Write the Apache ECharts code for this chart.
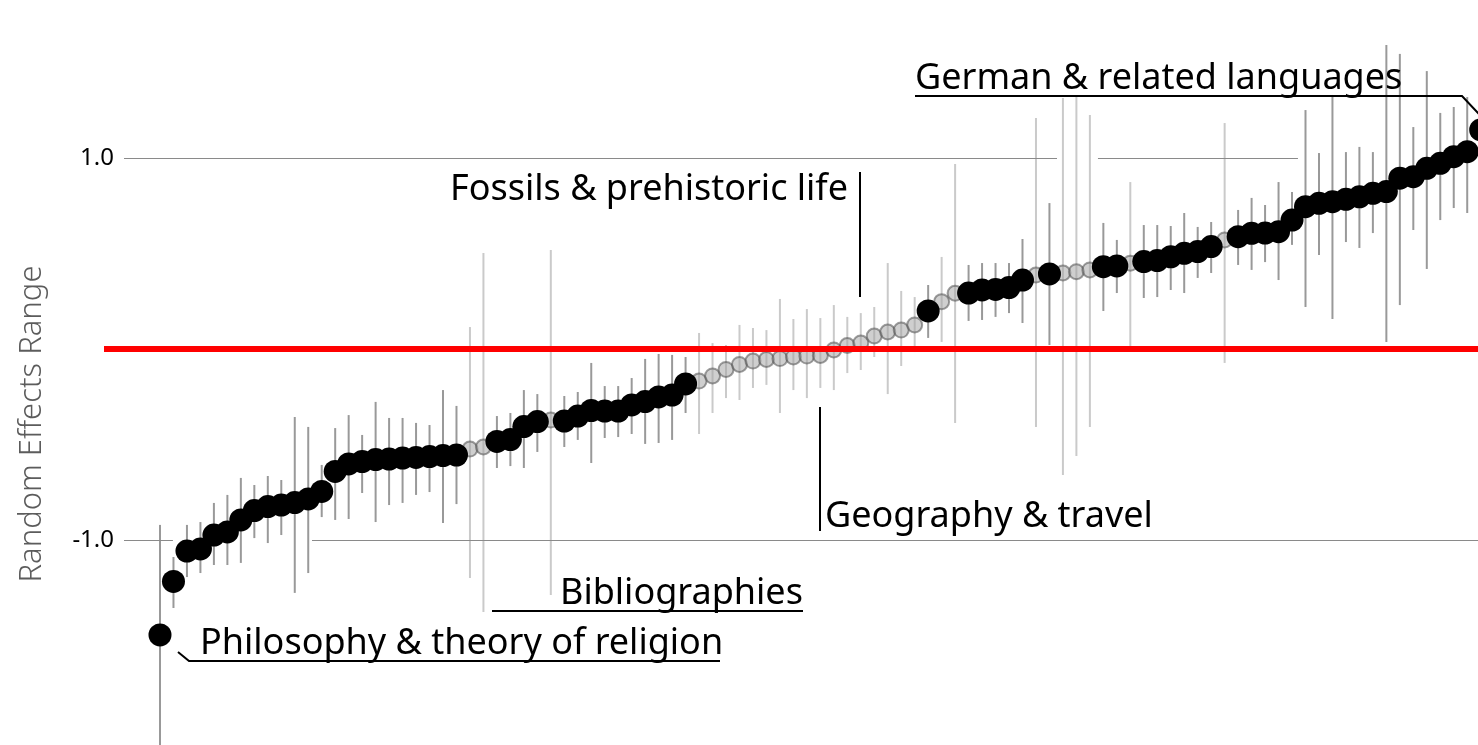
<!DOCTYPE html>
<html>
<head>
<meta charset="utf-8">
<title>Random effects by subject</title>
<script src="https://cdn.jsdelivr.net/npm/echarts@6/dist/echarts.min.js"></script>
<style>
  html, body { margin: 0; padding: 0; background: #fff; }
  #main { width: 1478px; height: 745px; }
</style>
</head>
<body>
<div id="main"></div>
<script>
// estimates per subject class, sorted ascending
const effect = [
  -1.497, -1.217, -1.058, -1.047, -0.974, -0.958, -0.895, -0.846, -0.825, -0.817,
  -0.804, -0.785, -0.746, -0.641, -0.602, -0.589, -0.579, -0.576, -0.571, -0.568,
  -0.563, -0.558, -0.555, -0.524, -0.513, -0.484, -0.474, -0.406, -0.380, -0.372,
  -0.377, -0.351, -0.322, -0.325, -0.325, -0.293, -0.275, -0.251, -0.241, -0.183,
  -0.168, -0.141, -0.107, -0.081, -0.063, -0.055, -0.050, -0.042, -0.037, -0.034,
  -0.005, 0.018, 0.031, 0.068, 0.089, 0.099, 0.126, 0.199, 0.248, 0.292,
  0.293, 0.309, 0.312, 0.322, 0.361, 0.387, 0.393, 0.398, 0.405, 0.414,
  0.431, 0.435, 0.449, 0.458, 0.463, 0.483, 0.501, 0.510, 0.536, 0.571,
  0.588, 0.606, 0.607, 0.614, 0.675, 0.745, 0.763, 0.771, 0.784, 0.797,
  0.815, 0.824, 0.894, 0.902, 0.946, 0.972, 1.007, 1.033, 1.147
];
// range ends
const lower = [
  -2.152, -1.356, -1.194, -1.173, -1.131, -1.131, -1.120, -0.990, -1.016, -0.974,
  -1.277, -1.173, -0.880, -0.895, -0.890, -0.754, -0.906, -0.817, -0.806, -0.764,
  -0.749, -0.911, -0.812, -1.199, -1.377, -0.623, -0.613, -0.623, -0.539, -1.288,
  -0.513, -0.476, -0.597, -0.466, -0.461, -0.445, -0.497, -0.492, -0.476, -0.335,
  -0.445, -0.335, -0.257, -0.267, -0.204, -0.188, -0.335, -0.215, -0.257, -0.204,
  -0.215, -0.126, -0.110, -0.042, -0.236, -0.089, -0.016, 0.058, 0.037, -0.387,
  0.147, 0.152, 0.168, 0.188, 0.136, -0.408, 0.021, -0.660, -0.560, -0.408,
  0.199, 0.293, 0.016, 0.267, 0.272, 0.309, 0.293, 0.372, 0.398, -0.073,
  0.440, 0.414, 0.455, 0.361, 0.545, 0.220, 0.492, 0.157, 0.560, 0.529,
  0.607, 0.037, 0.230, 0.623, 0.419, 0.675, 0.738, 0.712, 0.728
];
const upper = [
  -0.921, -1.089, -0.921, -0.906, -0.806, -0.764, -0.675, -0.712, -0.665, -0.686,
  -0.356, -0.408, -0.607, -0.414, -0.346, -0.450, -0.277, -0.361, -0.361, -0.387,
  -0.398, -0.215, -0.298, 0.115, 0.503, -0.351, -0.335, -0.215, -0.236, 0.518,
  -0.246, -0.225, -0.073, -0.194, -0.194, -0.152, -0.052, -0.026, -0.031, -0.042,
  0.084, 0.031, 0.021, 0.126, 0.110, 0.099, 0.262, 0.157, 0.209, 0.162,
  0.230, 0.168, 0.188, 0.220, 0.450, 0.304, 0.272, 0.335, 0.482, 0.969,
  0.440, 0.450, 0.450, 0.450, 0.576, 1.209, 0.764, 1.314, 1.325, 1.225,
  0.660, 0.571, 0.874, 0.649, 0.649, 0.644, 0.712, 0.639, 0.665, 1.183,
  0.728, 0.791, 0.754, 0.874, 0.822, 1.251, 1.026, 1.330, 1.031, 1.058,
  1.031, 1.592, 1.545, 1.162, 1.455, 1.236, 1.267, 1.319, 1.513
];
// 1 = drawn solid black, 0 = drawn faded grey
const significant = [
  1, 1, 1, 1, 1, 1, 1, 1, 1, 1,
  1, 1, 1, 1, 1, 1, 1, 1, 1, 1,
  1, 1, 1, 0, 0, 1, 1, 1, 1, 0,
  1, 1, 1, 1, 1, 1, 1, 1, 1, 1,
  0, 0, 0, 0, 0, 0, 0, 0, 0, 0,
  0, 0, 0, 0, 0, 0, 0, 1, 0, 0,
  1, 1, 1, 1, 1, 0, 1, 0, 0, 0,
  1, 1, 0, 1, 1, 1, 1, 1, 1, 0,
  1, 1, 1, 1, 1, 1, 1, 1, 1, 1,
  1, 1, 1, 1, 1, 1, 1, 1, 1
];
const tickValues = [-1, 1];
const labelNames = [
  'Philosophy & theory of religion',
  'Bibliographies',
  'Geography & travel',
  'Fossils & prehistoric life',
  'German & related languages'
];

const FONT = 'Noto Sans';

let myChart = echarts.init(document.getElementById('main'), null, { renderer: 'canvas' });

let blackPts = [];
let greyPts = [];
for (let i = 0; i < effect.length; i++) {
  if (significant[i]) blackPts.push([i, effect[i]]);
  else greyPts.push([i, effect[i]]);
}
let ranges = effect.map((v, i) => [i, lower[i], upper[i], significant[i]]);

// grid line pieces (x in index units), drawn with gaps like the original
const gridPieces = [
  [-2.67, 66.56, 1], [69.6, 84.44, 1],
  [-2.67, 0.96, -1], [11.28, 97.8, -1]
];

function txt(text, x, y) {
  return {
    type: 'text', x: x, y: y, z: 20,
    style: { text: text, fill: '#000', fontSize: 36, fontFamily: FONT, verticalAlign: 'middle' }
  };
}
function seg(points) {
  return {
    type: 'polyline', z: 20,
    shape: { points: points },
    style: { stroke: '#000', lineWidth: 2, fill: null }
  };
}

let option = {
  animation: false,
  backgroundColor: '#fff',
  textStyle: { fontFamily: FONT },
  grid: { left: 104, right: 0, top: 0, bottom: 0 },
  xAxis: { type: 'value', min: -4.155, max: 97.8, show: false },
  yAxis: {
    type: 'value',
    min: -2.0733,
    max: 1.8272,
    offset: -20,
    axisLine: { show: false },
    axisTick: { show: false },
    splitLine: { show: false },
    axisLabel: {
      customValues: tickValues,
      formatter: v => v.toFixed(1),
      fontSize: 24,
      color: '#000',
      margin: 10
    }
  },
  series: [
    {
      type: 'line', data: [], z: 1, silent: true,
      markLine: {
        symbol: 'none', silent: true, animation: false,
        label: { show: false },
        lineStyle: { color: '#8a8a8a', width: 1.2, type: 'solid' },
        data: gridPieces.map(p => [{ coord: [p[0], p[2]] }, { coord: [p[1], p[2]] }])
      }
    },
    {
      type: 'custom', z: 2, silent: true, clip: false,
      data: ranges,
      encode: { x: 0, y: [1, 2] },
      renderItem: (params, api) => {
        let i = api.value(0);
        let a = api.coord([i, api.value(1)]);
        let b = api.coord([i, api.value(2)]);
        return {
          type: 'line',
          shape: { x1: a[0], y1: a[1], x2: b[0], y2: b[1] },
          style: { stroke: api.value(3) ? '#999999' : '#cacaca', lineWidth: 2 }
        };
      }
    },
    {
      type: 'line', data: [], z: 3, silent: true,
      markLine: {
        symbol: 'none', silent: true, animation: false,
        label: { show: false },
        lineStyle: { color: '#ff0000', width: 6, type: 'solid' },
        data: [{ yAxis: 0 }]
      }
    },
    {
      type: 'scatter', z: 4, silent: true, clip: false,
      data: greyPts,
      symbolSize: 15,
      itemStyle: { opacity: 1, color: 'rgba(160,160,160,0.5)', borderColor: 'rgba(80,80,80,0.55)', borderWidth: 2 }
    },
    {
      type: 'scatter', z: 5, silent: true, clip: false,
      data: blackPts,
      symbolSize: 23,
      itemStyle: { opacity: 1, color: '#000' }
    }
  ],
  graphic: [
    {
      type: 'text', x: 32, y: 424, rotation: Math.PI / 2, z: 20,
      style: { text: 'Random Effects Range', fill: '#5c5c5c', fontSize: 31, fontFamily: FONT, fontWeight: 300, align: 'center', verticalAlign: 'middle' }
    },
    txt(labelNames[4], 915, 79),
    seg([[915, 96], [1462, 96], [1479, 114]]),
    txt(labelNames[3], 450, 190),
    seg([[860, 172], [860, 297]]),
    txt(labelNames[2], 825, 517),
    seg([[820, 407], [820, 531]]),
    txt(labelNames[1], 560, 594),
    seg([[492, 611], [803, 611]]),
    txt(labelNames[0], 200, 644),
    seg([[178, 652], [189, 661], [720, 661]])
  ]
};

myChart.setOption(option);
</script>
</body>
</html>
